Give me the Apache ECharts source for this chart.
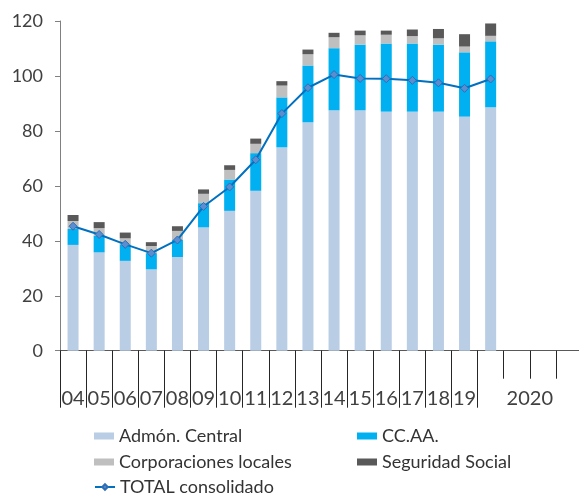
<!DOCTYPE html>
<html>
<head>
<meta charset="utf-8">
<script src="https://cdn.jsdelivr.net/npm/echarts@6/dist/echarts.min.js"></script>
<style>html,body{margin:0;padding:0;background:#fff;overflow:hidden}#c{width:592px;height:496px}</style>
</head>
<body>
<div id="c"></div>
<script>
// categories: 16 years + four quarters of 2020
const categories = ['04','05','06','07','08','09','10','11','12','13','14','15','16','17','18','19','2020T1','2020T2','2020T3','2020T4'];
const yearLabels = ['04','05','06','07','08','09','10','11','12','13','14','15','16','17','18','19','','','',''];
const periodLabel = '2020';
const periodCenter = 18; // value-axis position (0..20) where the "2020" label sits
const yTicks = [0, 20, 40, 60, 80, 100, 120];

const admonCentral = [38.5, 35.8, 32.7, 29.6, 34.1, 44.9, 50.9, 58.2, 74.0, 83.1, 87.5, 87.5, 87.0, 87.0, 87.0, 85.2, 88.6, null, null, null];
const ccaa         = [5.8, 6.0, 6.0, 5.9, 6.2, 8.8, 11.4, 13.7, 18.2, 20.7, 22.6, 23.9, 24.8, 24.8, 24.4, 23.4, 24.0, null, null, null];
const corporaciones= [2.9, 2.8, 2.2, 2.6, 3.3, 3.4, 3.5, 3.4, 4.3, 4.1, 4.0, 3.4, 3.2, 2.7, 2.3, 2.1, 2.0, null, null, null];
const seguridad    = [2.2, 2.2, 2.1, 1.4, 1.7, 1.6, 1.7, 1.9, 1.6, 1.7, 1.6, 1.7, 1.5, 2.4, 3.4, 4.5, 4.5, null, null, null];
const totalConsol  = [45.3, 42.3, 38.7, 35.5, 40.3, 52.5, 59.6, 69.5, 86.3, 95.7, 100.5, 99.1, 99.0, 98.4, 97.5, 95.5, 98.9, null, null, null];

const FONT = 'Lato';
const TXT = '#404040';
const chart = echarts.init(document.getElementById('c'), null, {renderer: 'canvas'});

const barCommon = {type: 'bar', stack: 'total', barWidth: 11, xAxisIndex: 0, yAxisIndex: 0};

function legendItem(name, left, top, icon) {
  const d = icon ? {name: name, icon: icon} : {name: name};
  return {
    left: left, top: top, orient: 'horizontal', padding: 0, itemWidth: 20, itemHeight: 7,
    textStyle: {fontSize: 18, color: '#333', lineHeight: 18, fontFamily: FONT},
    data: [d]
  };
}

chart.setOption({
  animation: false,
  textStyle: {fontFamily: FONT},
  grid: {left: 60, top: 21, width: 522, height: 329.7, containLabel: false},
  xAxis: [
    {
      type: 'category', data: categories, boundaryGap: true,
      axisLine: {show: true, lineStyle: {color: '#595959', width: 1}},
      axisTick: {show: true, interval: 0, length: 28, lineStyle: {color: '#262626'}},
      axisLabel: {show: false}
    },
    {
      type: 'category', data: categories, boundaryGap: true, position: 'bottom',
      axisLine: {show: false},
      axisTick: {show: true, length: 57, lineStyle: {color: '#262626'},
        interval: function (i) { return i <= 16; }},
      axisLabel: {show: true, interval: 0, margin: 38, fontSize: 20, color: TXT, fontFamily: FONT,
        formatter: function (v, i) { return yearLabels[i]; }}
    },
    {
      type: 'value', min: 0, max: 20, interval: 1, position: 'bottom',
      axisLine: {show: false}, axisTick: {show: false}, splitLine: {show: false},
      axisLabel: {show: true, margin: 38, fontSize: 20, color: TXT, fontFamily: FONT, showMinLabel: true, showMaxLabel: true,
        formatter: function (v) { return v === periodCenter ? periodLabel : ''; }}
    }
  ],
  yAxis: {
    type: 'value', min: yTicks[0], max: yTicks[yTicks.length - 1], interval: 20,
    axisLine: {show: true, lineStyle: {color: '#808080'}},
    axisTick: {show: true, length: 5, lineStyle: {color: '#808080'}},
    splitLine: {show: false},
    axisLabel: {fontSize: 18, color: TXT, margin: 17, fontFamily: FONT}
  },
  legend: [
    legendItem('Admón. Central', 94, 427, 'rect'),
    legendItem('CC.AA.', 357, 427, 'rect'),
    legendItem('Corporaciones locales', 94, 453, 'rect'),
    legendItem('Seguridad Social', 357, 453, 'rect'),
    legendItem('TOTAL consolidado', 94, 478)
  ],
  series: [
    Object.assign({name: 'Admón. Central', data: admonCentral, itemStyle: {color: '#b9cde5'}}, barCommon),
    Object.assign({name: 'CC.AA.', data: ccaa, itemStyle: {color: '#00b0f0'}}, barCommon),
    Object.assign({name: 'Corporaciones locales', data: corporaciones, itemStyle: {color: '#bfbfbf'}}, barCommon),
    Object.assign({name: 'Seguridad Social', data: seguridad, itemStyle: {color: '#595959'}}, barCommon),
    {
      name: 'TOTAL consolidado', type: 'line', data: totalConsol, xAxisIndex: 0, yAxisIndex: 0,
      symbol: 'diamond', symbolSize: 8, showAllSymbol: true,
      lineStyle: {color: '#0070c0', width: 2},
      itemStyle: {color: '#5b8ed0', borderColor: '#2f6db5', borderWidth: 1},
      z: 5
    }
  ]
});
</script>
</body>
</html>
